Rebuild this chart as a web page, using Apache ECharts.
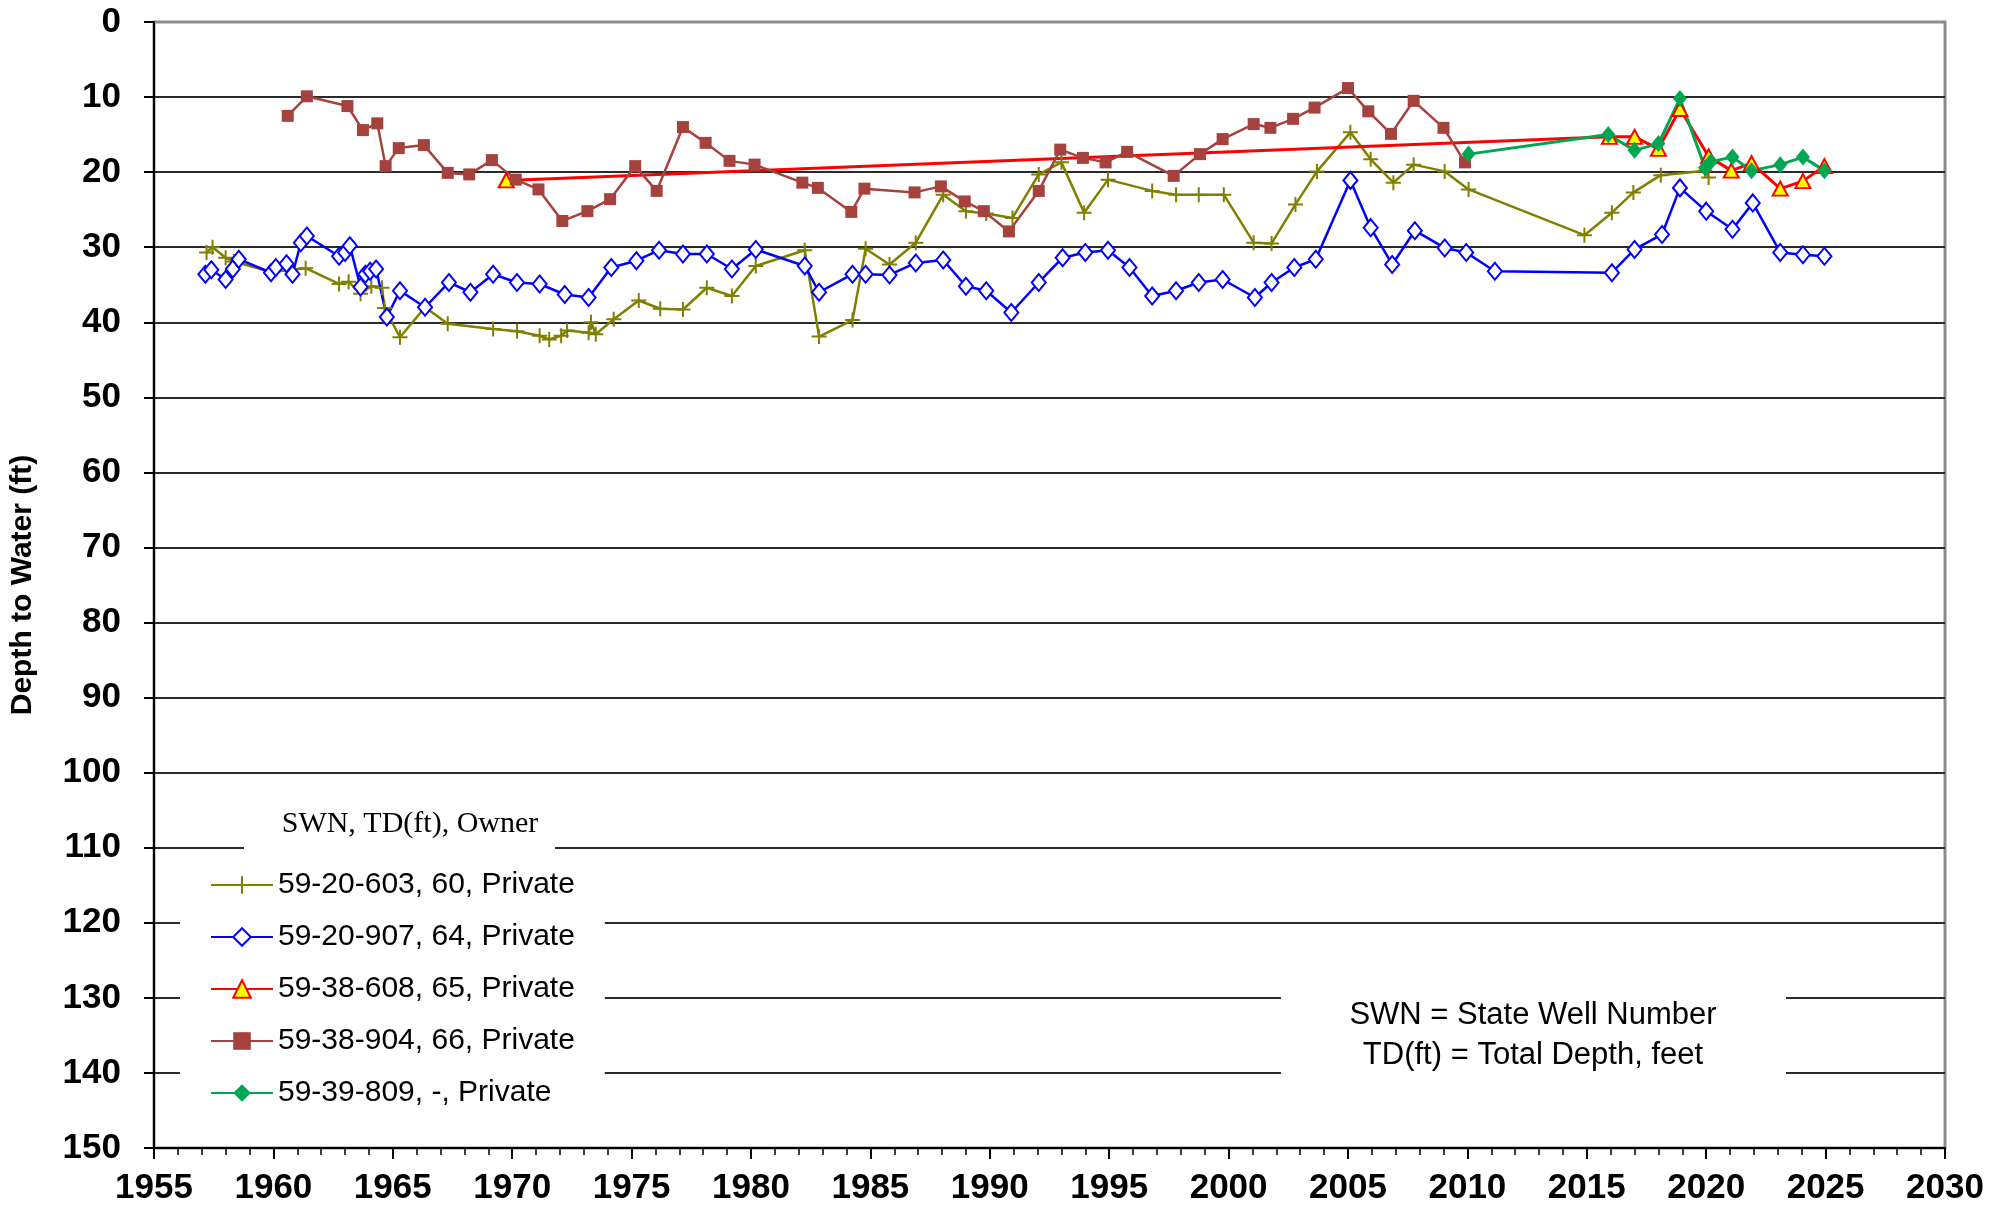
<!DOCTYPE html>
<html>
<head>
<meta charset="utf-8">
<script src="https://cdn.jsdelivr.net/npm/echarts@6/dist/echarts.min.js"></script>
<style>
html,body{margin:0;padding:0;background:#fff;}
#chart{width:2015px;height:1209px;}
</style>
</head>
<body>
<div id="chart"></div>
<script>
// ---- Data (year, depth to water in ft) ----
const seriesNames = ['59-20-603, 60, Private','59-20-907, 64, Private','59-38-608, 65, Private','59-38-904, 66, Private','59-39-809, -, Private'];

const olYears = [1957.2,1957.45,1958.0,1958.35,1959.9,1961.35,1962.75,1963.15,1963.65,1964.1,1964.55,1964.65,1965.3,1966.35,1967.3,1969.2,1970.2,1971.15,1971.55,1972.05,1972.3,1973.2,1973.3,1973.5,1974.25,1975.3,1976.2,1977.15,1978.15,1979.2,1980.2,1982.25,1982.85,1984.25,1984.8,1985.8,1986.9,1988.05,1989.0,1989.85,1990.95,1992.05,1993.0,1993.95,1994.95,1996.8,1997.8,1998.75,1999.8,2001.05,2001.8,2002.8,2003.7,2005.1,2005.95,2006.9,2007.75,2009.05,2010.05,2014.9,2016.05,2016.95,2018.1,2019.95,2020.1];
const olDepth = [30.7,30.0,31.4,31.9,33.3,32.8,34.9,34.6,36.2,35.2,35.4,38.1,42.0,38.0,40.2,40.9,41.2,41.8,42.3,41.8,41.1,41.4,40.0,41.6,39.6,37.1,38.2,38.3,35.4,36.5,32.5,30.4,41.9,39.7,30.2,32.3,29.4,23.0,25.2,25.5,26.1,20.3,18.7,25.4,21.0,22.5,23.0,23.0,23.0,29.4,29.5,24.3,19.9,14.7,18.3,21.4,19.0,19.9,22.3,28.4,25.4,22.7,20.4,19.8,20.7];

const blYears = [1957.15,1957.4,1958.0,1958.3,1958.55,1959.9,1960.1,1960.55,1960.8,1961.15,1961.4,1962.75,1963.0,1963.2,1963.65,1963.85,1964.05,1964.3,1964.75,1965.3,1966.35,1967.35,1968.25,1969.2,1970.2,1971.15,1972.2,1973.2,1974.15,1975.2,1976.15,1977.15,1978.15,1979.2,1980.2,1982.25,1982.85,1984.25,1984.8,1985.8,1986.9,1988.05,1989.0,1989.85,1990.9,1992.05,1993.05,1994.0,1994.95,1995.85,1996.8,1997.8,1998.75,1999.75,2001.1,2001.8,2002.75,2003.65,2005.1,2005.95,2006.85,2007.8,2009.05,2009.95,2011.15,2016.05,2017.0,2018.15,2018.9,2020.0,2021.1,2021.95,2023.1,2024.05,2024.95];
const blDepth = [33.6,33.0,34.3,32.9,31.6,33.4,32.7,32.2,33.6,29.4,28.5,31.2,30.7,29.8,35.3,33.6,33.2,32.9,39.3,35.8,38.0,34.7,36.0,33.6,34.7,34.9,36.3,36.7,32.7,31.8,30.4,30.9,30.9,32.9,30.3,32.5,36.0,33.6,33.6,33.7,32.1,31.7,35.2,35.8,38.7,34.7,31.4,30.7,30.4,32.7,36.5,35.8,34.7,34.3,36.7,34.7,32.7,31.6,21.1,27.4,32.3,27.8,30.1,30.7,33.2,33.4,30.3,28.3,22.1,25.2,27.6,24.1,30.7,31.0,31.2];

const rdYears = [1969.75,2015.95,2017.0,2018.0,2018.9,2020.1,2021.05,2021.9,2023.1,2024.05,2024.95];
const rdDepth = [21.1,15.3,15.3,16.9,11.6,17.9,19.8,18.8,22.2,21.2,19.2];

const brYears = [1960.6,1961.4,1963.1,1963.75,1964.35,1964.7,1965.25,1966.3,1967.3,1968.2,1969.15,1970.15,1971.1,1972.1,1973.15,1974.1,1975.15,1976.05,1977.15,1978.1,1979.1,1980.15,1982.15,1982.8,1984.2,1984.75,1986.85,1987.95,1988.95,1989.75,1990.8,1992.05,1992.95,1993.9,1994.85,1995.75,1997.7,1998.8,1999.75,2001.05,2001.75,2002.7,2003.6,2005.0,2005.85,2006.8,2007.75,2009.0,2009.9];
const brDepth = [12.5,9.9,11.2,14.4,13.5,19.2,16.8,16.4,20.1,20.3,18.4,21.0,22.3,26.5,25.2,23.6,19.2,22.5,14.0,16.1,18.5,19.0,21.4,22.1,25.3,22.2,22.7,21.9,23.9,25.2,27.9,22.5,17.0,18.1,18.7,17.3,20.5,17.6,15.6,13.6,14.1,12.9,11.4,8.8,11.9,14.9,10.5,14.1,18.7];

const grYears = [2010.05,2015.9,2017.0,2018.0,2018.9,2019.95,2020.2,2021.1,2021.9,2023.1,2024.05,2024.95];
const grDepth = [17.6,15.0,17.1,16.2,10.2,19.4,18.6,18.0,19.8,19.0,18.0,19.8];

const xTicks = {min:1955, max:2030, step:5};
const yTicks = {min:0, max:150, step:10};

function pairs(xs, ys){ return xs.map((x,i)=>[x, ys[i]]); }

const FONT = "'Liberation Sans', Arial, sans-serif";
const plusPath = 'path://M6,0 L6,12 M0,6 L12,6';

const chart = echarts.init(document.getElementById('chart'), null, {renderer:'canvas'});

const option = {
  backgroundColor:'#ffffff',
  animation:false,
  grid:{left:150, right:70, top:22, bottom:61, show:true, borderColor:'#8c8c8c', borderWidth:3, backgroundColor:'transparent'},
  xAxis:{
    type:'value', min:xTicks.min, max:xTicks.max, interval:xTicks.step,
    axisLine:{show:true, onZero:false, lineStyle:{color:'#000', width:2}},
    axisTick:{show:true, length:11, lineStyle:{color:'#000', width:2}},
    minorTick:{show:true, splitNumber:5, length:7, lineStyle:{color:'#000', width:1.5}},
    splitLine:{show:false},
    axisLabel:{fontFamily:FONT, fontWeight:'bold', fontSize:35, color:'#000', margin:23,
      formatter:function(v){ return String(v); }}
  },
  yAxis:{
    type:'value', inverse:true, min:yTicks.min, max:yTicks.max, interval:yTicks.step,
    name:'Depth to Water (ft)', nameLocation:'middle', nameGap:116, nameRotate:90,
    nameTextStyle:{fontFamily:FONT, fontWeight:'bold', fontSize:30, color:'#000'},
    axisLine:{show:true, onZero:false, lineStyle:{color:'#000', width:2}},
    axisTick:{show:true, length:10, lineStyle:{color:'#000', width:2}},
    splitLine:{show:true, showMinLine:false, lineStyle:{color:'#2a2a2a', width:2}},
    axisLabel:{fontFamily:FONT, fontWeight:'bold', fontSize:35, color:'#000', margin:33,
      formatter:function(v){ return String(v); }}
  },
  legend:{
    orient:'vertical', left:180, top:855, padding:[15,30,15,30],
    backgroundColor:'#ffffff', itemWidth:62, itemHeight:22, itemGap:22,
    textStyle:{fontFamily:FONT, fontSize:30, color:'#000', lineHeight:30},
    data:seriesNames, z:20
  },
  graphic:[
    {type:'rect', z:50, shape:{x:244, y:803, width:311, height:48}, style:{fill:'#ffffff'}},
    {type:'text', z:51, x:410, y:824, style:{text:'SWN, TD(ft), Owner', fontFamily:"'Liberation Serif', 'Times New Roman', serif", fontSize:30, fill:'#000', align:'center', verticalAlign:'middle'}},
    {type:'rect', z:50, shape:{x:1281, y:978, width:505, height:112}, style:{fill:'#ffffff'}},
    {type:'text', z:51, x:1533, y:1015, style:{text:'SWN = State Well Number', fontFamily:FONT, fontSize:31, fill:'#000', align:'center', verticalAlign:'middle'}},
    {type:'text', z:51, x:1533, y:1055, style:{text:'TD(ft) = Total Depth, feet', fontFamily:FONT, fontSize:31, fill:'#000', align:'center', verticalAlign:'middle'}}
  ],
  series:[
    {name:seriesNames[0], type:'line', data:pairs(olYears, olDepth),
     symbol:plusPath, symbolSize:15, showAllSymbol:true,
     lineStyle:{color:'#808000', width:2.5}, itemStyle:{color:'#808000', borderColor:'#808000', borderWidth:2}},
    {name:seriesNames[1], type:'line', data:pairs(blYears, blDepth),
     symbol:'diamond', symbolSize:[14,17], showAllSymbol:true,
     lineStyle:{color:'#0000ff', width:2.5}, itemStyle:{color:'#ffffff', borderColor:'#0000ff', borderWidth:2}},
    {name:seriesNames[2], type:'line', data:pairs(rdYears, rdDepth),
     symbol:'triangle', symbolSize:[15,14], showAllSymbol:true,
     lineStyle:{color:'#ff0000', width:3}, itemStyle:{color:'#ffff00', borderColor:'#ff0000', borderWidth:2}},
    {name:seriesNames[3], type:'line', data:pairs(brYears, brDepth),
     symbol:'rect', symbolSize:12, showAllSymbol:true,
     lineStyle:{color:'#a5423e', width:2.5}, itemStyle:{color:'#a5423e', borderColor:'#a5423e', borderWidth:0}},
    {name:seriesNames[4], type:'line', data:pairs(grYears, grDepth),
     symbol:'diamond', symbolSize:[14,17], showAllSymbol:true,
     lineStyle:{color:'#00a651', width:3}, itemStyle:{color:'#00a651', borderColor:'#00a651', borderWidth:0}}
  ]
};
chart.setOption(option);
</script>
</body>
</html>
